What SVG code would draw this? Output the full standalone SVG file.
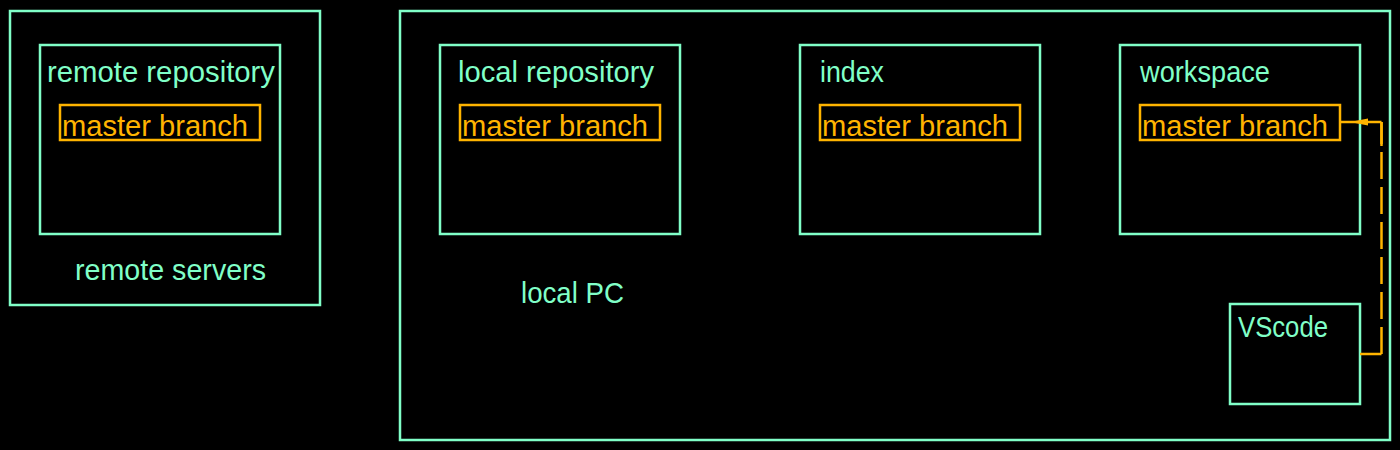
<svg xmlns="http://www.w3.org/2000/svg" width="1400" height="450" viewBox="0 0 1400 450">
<style>
.bg{fill:#000}
.box{fill:none;stroke:#80FFC8;stroke-width:2.5}
.br{fill:none;stroke:#FFB400;stroke-width:2.5}
.t{font-family:"Liberation Sans",Arial,sans-serif;font-size:29px;fill:#80FFC8}
.tb{font-family:"Liberation Sans",Arial,sans-serif;font-size:29px;fill:#FFB400}
.con{fill:none;stroke:#FFB400;stroke-width:2.5}
</style>
<rect class="bg" x="0" y="0" width="1400" height="450"/>
<g id="remote-servers">
<rect class="box" x="10" y="11" width="310" height="294"/>
<text class="t" x="75" y="280" textLength="191" lengthAdjust="spacingAndGlyphs">remote servers</text>
</g>
<g id="remote-repository">
<rect class="box" x="40" y="45" width="240" height="189"/>
<text class="t" x="47" y="82" textLength="228" lengthAdjust="spacingAndGlyphs">remote repository</text>
<g id="remote-master">
<rect class="br" x="60" y="105" width="200" height="35"/>
<text class="tb" x="62" y="136" textLength="186" lengthAdjust="spacingAndGlyphs">master branch</text>
</g>
</g>
<g id="local-pc">
<rect class="box" x="400" y="11" width="990" height="429"/>
<text class="t" x="521" y="303" textLength="103" lengthAdjust="spacingAndGlyphs">local PC</text>
</g>
<g id="local-repository">
<rect class="box" x="440" y="45" width="240" height="189"/>
<text class="t" x="458" y="82" textLength="196" lengthAdjust="spacingAndGlyphs">local repository</text>
<g id="local-master">
<rect class="br" x="460" y="105" width="200" height="35"/>
<text class="tb" x="462" y="136" textLength="186" lengthAdjust="spacingAndGlyphs">master branch</text>
</g>
</g>
<g id="index">
<rect class="box" x="800" y="45" width="240" height="189"/>
<text class="t" x="820" y="82" textLength="64" lengthAdjust="spacingAndGlyphs">index</text>
<g id="index-master">
<rect class="br" x="820" y="105" width="200" height="35"/>
<text class="tb" x="822" y="136" textLength="186" lengthAdjust="spacingAndGlyphs">master branch</text>
</g>
</g>
<g id="workspace">
<rect class="box" x="1120" y="45" width="240" height="189"/>
<text class="t" x="1140" y="82" textLength="130" lengthAdjust="spacingAndGlyphs">workspace</text>
<g id="workspace-master">
<rect class="br" x="1140" y="105" width="200" height="35"/>
<text class="tb" x="1142" y="136" textLength="186" lengthAdjust="spacingAndGlyphs">master branch</text>
</g>
</g>
<g id="vscode">
<rect class="box" x="1230" y="304" width="130" height="100"/>
<text class="t" x="1238" y="337" textLength="90" lengthAdjust="spacingAndGlyphs">VScode</text>
</g>
<g id="connectors">
<path class="con" d="M1360,354 H1381.5"/>
<path class="con" d="M1381.5,354 V122" stroke-dasharray="27,8"/>
<path class="con" d="M1381.5,122 V146"/>
<path class="con" d="M1381.5,122 H1341"/>
<path d="M1350,122 L1368,118.5 L1368,125.5 Z" fill="#FFB400"/>
</g>
</svg>
